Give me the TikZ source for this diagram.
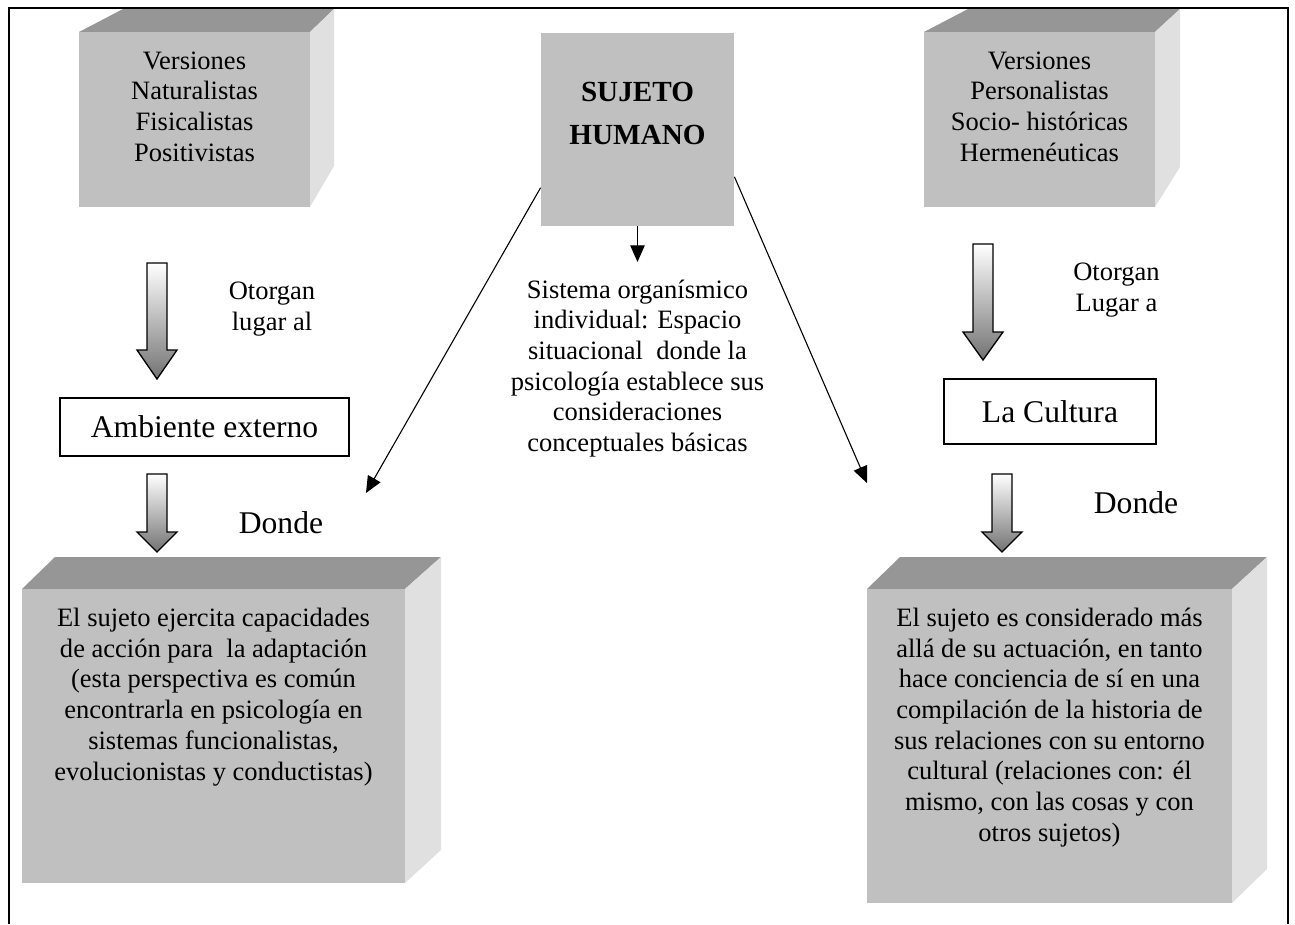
\documentclass[tikz,border=0pt]{standalone}
\usepackage{fontspec}
\setmainfont{Liberation Serif}
\usetikzlibrary{calc,arrows.meta}
\definecolor{caragris}{RGB}{192,192,192}
\definecolor{techogris}{RGB}{150,150,150}
\definecolor{ladogris}{RGB}{224,224,224}
\newcommand{\pxu}{0.4525pt}
\newcommand{\textonormal}{\fontsize{12}{13.9}\selectfont}
\newcommand{\textogrande}{\fontsize{14.3}{16.5}\selectfont}

\begin{document}
\begin{tikzpicture}[x=0.4525pt, y=-0.4525pt,
	texto/.style={align=center, inner sep=0pt, font=\textonormal},
	grande/.style={inner sep=0pt, font=\textogrande},
	caja/.style={draw, line width=0.6pt, inner sep=0pt, font=\textogrande},
	flechagorda/.style={draw, line width=0.6pt, top color=white, bottom color=black!55},
	flechafina/.style={line width=0.5pt, -{Triangle[length=7.5pt, width=6.5pt]}}]

	\useasboundingbox (0,0) rectangle (1295,924);

	% marco
	\draw [line width=1pt] (9,924) -- (9,8) -- (1288,8) -- (1288,924);

	% versiones naturalistas
	\fill [techogris] (79,32) -- (123,9) -- (334,9) -- (310,32) -- cycle;
	\fill [ladogris] (310,32) -- (334,9) -- (334,166) -- (310,207) -- cycle;
	\fill [caragris] (79,32) rectangle (310,207);
	\node [texto] (vnat) at (194.5,106.5) {Versiones\\Naturalistas\\Fisicalistas\\Positivistas};

	% versiones personalistas
	\fill [techogris] (924,32) -- (968,9) -- (1180,9) -- (1155,32) -- cycle;
	\fill [ladogris] (1155,32) -- (1180,9) -- (1180,167) -- (1155,207) -- cycle;
	\fill [caragris] (924,32) rectangle (1155,207);
	\node [texto] (vper) at (1039.5,106.5) {Versiones\\Personalistas\\Socio- históricas\\Hermenéuticas};

	% sujeto humano
	\node [fill=caragris, minimum width=193*\pxu, minimum height=193*\pxu, inner sep=0pt] (hum) at (637.5,129.5) {};
	\node [align=center, inner sep=0pt, font=\fontsize{13.2}{19.5}\selectfont\bfseries] (humt) at (637.5,113.5) {SUJETO\\HUMANO};
	\coordinate (tipc) at (637.5,262);
	\draw [flechafina] (hum.south) -- (tipc);
	\node [texto] (sist) at (637.5,368.5) {Sistema organísmico\\individual: Espacio\\situacional~ donde la\\psicología establece sus\\consideraciones\\conceptuales básicas};

	% diagonales
	\coordinate (tipi) at (366,493);
	\coordinate (tipd) at (867,483);
	\draw [flechafina] (hum.211) -- (tipi);
	\draw [flechafina] (hum.-26) -- (tipd);

	% rama izquierda
	\coordinate (fa1) at (157,263);
	\coordinate (fb1) at (157,379);
	\draw [flechagorda] ($(fa1)+(-10,0)$) -- ($(fa1)+(10,0)$) -- ($(fb1)+(10,-29)$) -- ($(fb1)+(20,-29)$) -- (fb1) -- ($(fb1)+(-20,-29)$) -- ($(fb1)+(-10,-29)$) -- cycle;
	\node [texto] (otor1) at (272,309) {Otorgan\\lugar al};
	\node [caja, minimum width=289*\pxu, minimum height=58*\pxu] (amb) at (204.5,427) {Ambiente externo};
	\coordinate (fa2) at (157,474);
	\coordinate (fb2) at (157,552);
	\draw [flechagorda] ($(fa2)+(-10,0)$) -- ($(fa2)+(10,0)$) -- ($(fb2)+(10,-20)$) -- ($(fb2)+(20,-20)$) -- (fb2) -- ($(fb2)+(-20,-20)$) -- ($(fb2)+(-10,-20)$) -- cycle;
	\node [grande] (donde1) at (281,523) {Donde};

	% caja adaptacion
	\fill [techogris] (22,589) -- (55,557) -- (441,557) -- (405,589) -- cycle;
	\fill [ladogris] (405,589) -- (441,557) -- (441,850) -- (405,883) -- cycle;
	\fill [caragris] (22,589) rectangle (405,883);
	\node [texto] (adap) at (213.5,697) {El sujeto ejercita capacidades\\de acción para~ la adaptación\\(esta perspectiva es común\\encontrarla en psicología en\\sistemas funcionalistas,\\evolucionistas y conductistas)};

	% rama derecha
	\coordinate (fa3) at (983,244);
	\coordinate (fb3) at (983,360);
	\draw [flechagorda] ($(fa3)+(-10,0)$) -- ($(fa3)+(10,0)$) -- ($(fb3)+(10,-28)$) -- ($(fb3)+(20,-28)$) -- (fb3) -- ($(fb3)+(-20,-28)$) -- ($(fb3)+(-10,-28)$) -- cycle;
	\node [texto] (otor2) at (1116.5,290) {Otorgan\\Lugar a};
	\node [caja, minimum width=212*\pxu, minimum height=65*\pxu] (cult) at (1050,411.5) {La Cultura};
	\coordinate (fa4) at (1002,474);
	\coordinate (fb4) at (1002,552);
	\draw [flechagorda] ($(fa4)+(-10,0)$) -- ($(fa4)+(10,0)$) -- ($(fb4)+(10,-20)$) -- ($(fb4)+(20,-20)$) -- (fb4) -- ($(fb4)+(-20,-20)$) -- ($(fb4)+(-10,-20)$) -- cycle;
	\node [grande] (donde2) at (1136,503) {Donde};

	% caja cultura
	\fill [techogris] (867,589) -- (900,557) -- (1267,557) -- (1232,589) -- cycle;
	\fill [ladogris] (1232,589) -- (1267,557) -- (1267,869) -- (1232,903) -- cycle;
	\fill [caragris] (867,589) rectangle (1232,903);
	\node [texto] (conc) at (1049.5,727.5) {El sujeto es considerado más\\allá de su actuación, en tanto\\hace conciencia de sí en una\\compilación de la historia de\\sus relaciones con su entorno\\cultural (relaciones con: él\\mismo, con las cosas y con\\otros sujetos)};
\end{tikzpicture}
\end{document}
